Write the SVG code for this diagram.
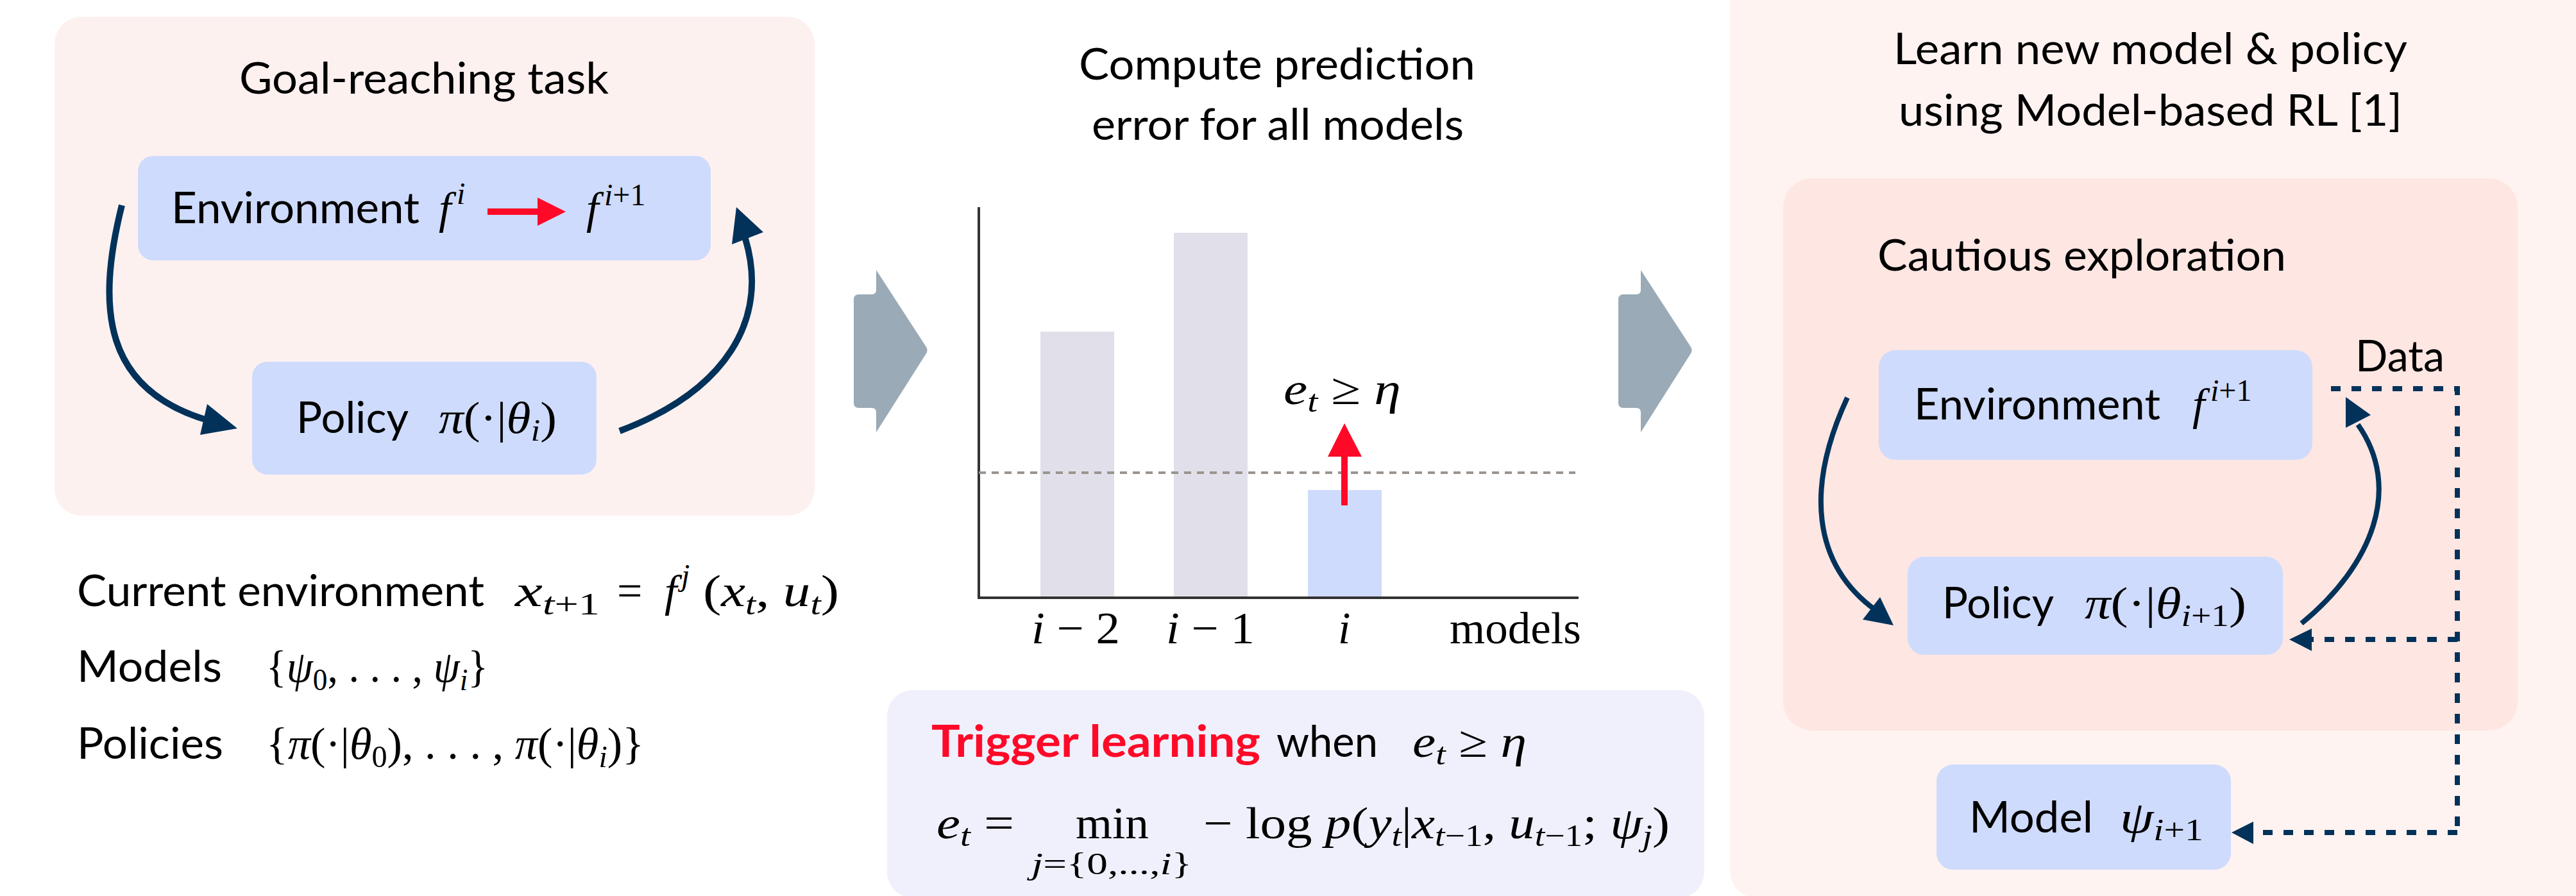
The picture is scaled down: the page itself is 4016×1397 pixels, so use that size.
<svg xmlns="http://www.w3.org/2000/svg" width="4016" height="1397" viewBox="0 0 4016 1397">
<style>
.t{font-family:Lato,"Open Sans","Liberation Sans",sans-serif;font-size:68px;fill:#000}
.m{font-family:"Liberation Serif","DejaVu Serif",serif;font-size:70px;font-style:italic;fill:#000}
.u{font-style:normal}
.s{font-size:48px}
.node{fill:#cedbfc}
.dark{stroke:#02325a;fill:none}
.head{fill:#02325a}
.red{fill:#fe0a28}
.dash{stroke:#02325a;stroke-width:8;fill:none;stroke-dasharray:15 17}
</style>
<defs>
<path id="chev" d="M1331,467 Q1331,459 1339,459 H1359 Q1366,459 1366,452 V421 L1444,541 Q1447,546 1444,551 L1366,674 V643 Q1366,636 1359,636 H1339 Q1331,636 1331,628 Z"/>
</defs>
<rect width="4016" height="1397" fill="#fff"/>

<!-- panels -->
<g id="panel-left">
<rect x="85" y="26" width="1185" height="778" rx="42" fill="#fdf1f0"/>
<text class="t" x="373" y="146" textLength="576" lengthAdjust="spacingAndGlyphs">Goal-reaching task</text>
</g>
<g id="panel-right">
<rect x="2697" y="-60" width="1400" height="1460" rx="42" fill="#fef3f1"/>
<text class="t" x="2952" y="100" textLength="801" lengthAdjust="spacingAndGlyphs">Learn new model &amp; policy</text>
<text class="t" x="2960" y="196" textLength="785" lengthAdjust="spacingAndGlyphs">using Model-based RL [1]</text>
</g>
<g id="cautious-box">
<rect x="2780" y="278" width="1145" height="861" rx="45" fill="#fee6e2"/>
<text class="t" x="2927" y="422" textLength="637" lengthAdjust="spacingAndGlyphs">Cautious exploration</text>
</g>

<!-- left nodes -->
<g id="env-left">
<rect class="node" x="215" y="243" width="893" height="163" rx="24"/>
<text class="t" x="267" y="348" textLength="387" lengthAdjust="spacingAndGlyphs">Environment</text>
<text class="m" x="684" y="348">f</text>
<text class="m s" x="712" y="318">i</text>
<text class="m" x="914" y="348">f</text>
<text class="m s" x="942" y="320">i<tspan class="u">+1</tspan></text>
</g>
<g id="policy-left">
<rect class="node" x="393" y="564" width="537" height="176" rx="24"/>
<text class="t" x="462" y="675" textLength="175" lengthAdjust="spacingAndGlyphs">Policy</text>
<text class="m" x="684" y="675" textLength="184" lengthAdjust="spacingAndGlyphs">π<tspan class="u">(·|</tspan>θ<tspan class="s" dy="12">i</tspan><tspan class="u" dy="-12">)</tspan></text>
</g>

<g id="legend-left">
<text class="t" x="120" y="945" textLength="635" lengthAdjust="spacingAndGlyphs">Current environment</text>
<text class="m" x="803" y="945" textLength="132" lengthAdjust="spacingAndGlyphs">x<tspan class="s" dy="13">t<tspan class="u">+1</tspan></tspan></text>
<text class="m u" x="962" y="945">=</text>
<text class="m" x="1036" y="945">f</text>
<text class="m s" x="1062" y="913">j</text>
<text class="m" x="1096" y="945" textLength="212" lengthAdjust="spacingAndGlyphs"><tspan class="u">(</tspan>x<tspan class="s" dy="13">t</tspan><tspan class="u" dy="-13">, </tspan>u<tspan class="s" dy="13">t</tspan><tspan class="u" dy="-13">)</tspan></text>
<text class="t" x="120" y="1063" textLength="226" lengthAdjust="spacingAndGlyphs">Models</text>
<text class="m" x="415" y="1063" textLength="346" lengthAdjust="spacingAndGlyphs"><tspan class="u">{</tspan>ψ<tspan class="s u" dy="13">0</tspan><tspan class="u" dy="-13">, . . . , </tspan>ψ<tspan class="s" dy="13">i</tspan><tspan class="u" dy="-13">}</tspan></text>
<text class="t" x="120" y="1183" textLength="228" lengthAdjust="spacingAndGlyphs">Policies</text>
<text class="m" x="415" y="1183" textLength="589" lengthAdjust="spacingAndGlyphs"><tspan class="u">{</tspan>π<tspan class="u">(·|</tspan>θ<tspan class="s u" dy="13">0</tspan><tspan class="u" dy="-13">), . . . , </tspan>π<tspan class="u">(·|</tspan>θ<tspan class="s" dy="13">i</tspan><tspan class="u" dy="-13">)}</tspan></text>
</g>

<!-- middle -->
<g id="middle-title">
<text class="t" x="1682" y="124" textLength="618" lengthAdjust="spacingAndGlyphs">Compute prediction</text>
<text class="t" x="1702" y="218" textLength="580" lengthAdjust="spacingAndGlyphs">error for all models</text>
</g>
<g id="chart">
<rect x="1622" y="517" width="115" height="415" fill="#e1e0ea"/>
<rect x="1830" y="363" width="115" height="569" fill="#e1e0ea"/>
<rect x="2039" y="764" width="115" height="168" fill="#cedbfc"/>
<path d="M1526,323 V932 H2461" stroke="#333" stroke-width="4" fill="none"/>
<path d="M1526,737 H2456" stroke="#9b938e" stroke-width="4" stroke-dasharray="11 9" fill="none"/>
<rect class="red" x="2091" y="705" width="10" height="83"/>
<polygon class="red" points="2096,660 2070,712 2123,712"/>
<text class="m" x="2001" y="630" textLength="183" lengthAdjust="spacingAndGlyphs">e<tspan class="s" dy="12">t</tspan><tspan class="u" dy="-12"> ≥ </tspan>η</text>
<text class="m" x="1608" y="1003" textLength="138" lengthAdjust="spacingAndGlyphs">i<tspan class="u"> − 2</tspan></text>
<text class="m" x="1818" y="1003" textLength="138" lengthAdjust="spacingAndGlyphs">i<tspan class="u"> − 1</tspan></text>
<text class="m" x="2086" y="1003">i</text>
<text class="m u" x="2260" y="1003" textLength="205" lengthAdjust="spacingAndGlyphs">models</text>
</g>
<g id="arrow-1"><use href="#chev" fill="#9aaab6"/></g>
<g id="arrow-2"><use href="#chev" fill="#9aaab6" transform="translate(1192,0)"/></g>

<g id="trigger-box">
<rect x="1383" y="1076" width="1274" height="324" rx="40" fill="#f0f0fd"/>
<text class="t" x="1452" y="1180" textLength="513" lengthAdjust="spacingAndGlyphs" style="font-weight:bold;fill:#fe0a28">Trigger learning</text>
<text class="t" x="1990" y="1180" textLength="158" lengthAdjust="spacingAndGlyphs">when</text>
<text class="m" x="2202" y="1180" textLength="178" lengthAdjust="spacingAndGlyphs">e<tspan class="s" dy="12">t</tspan><tspan class="u" dy="-12"> ≥ </tspan>η</text>
<text class="m" x="1460" y="1307" textLength="121" lengthAdjust="spacingAndGlyphs">e<tspan class="s" dy="12">t</tspan><tspan class="u" dy="-12"> =</tspan></text>
<text class="m u" x="1677" y="1307" textLength="114" lengthAdjust="spacingAndGlyphs">min</text>
<text class="m s" x="1608" y="1363" textLength="250" lengthAdjust="spacingAndGlyphs">j<tspan class="u">={0,...,</tspan>i<tspan class="u">}</tspan></text>
<text class="m" x="1876" y="1307" textLength="727" lengthAdjust="spacingAndGlyphs"><tspan class="u">− log </tspan>p<tspan class="u">(</tspan>y<tspan class="s" dy="12">t</tspan><tspan class="u" dy="-12">|</tspan>x<tspan class="s" dy="12">t<tspan class="u">−1</tspan></tspan><tspan class="u" dy="-12">, </tspan>u<tspan class="s" dy="12">t<tspan class="u">−1</tspan></tspan><tspan class="u" dy="-12">; </tspan>ψ<tspan class="s" dy="12">j</tspan><tspan class="u" dy="-12">)</tspan></text>
</g>

<!-- right nodes -->
<g id="env-right">
<rect class="node" x="2929" y="546" width="676" height="171" rx="26"/>
<text class="t" x="2984" y="654" textLength="384" lengthAdjust="spacingAndGlyphs">Environment</text>
<text class="m" x="3418" y="654">f</text>
<text class="m s" x="3446" y="625">i<tspan class="u">+1</tspan></text>
</g>
<g id="policy-right">
<rect class="node" x="2974" y="868" width="585" height="153" rx="26"/>
<text class="t" x="3028" y="964" textLength="174" lengthAdjust="spacingAndGlyphs">Policy</text>
<text class="m" x="3250" y="964" textLength="252" lengthAdjust="spacingAndGlyphs">π<tspan class="u">(·|</tspan>θ<tspan class="s" dy="12">i<tspan class="u">+1</tspan></tspan><tspan class="u" dy="-12">)</tspan></text>
</g>
<g id="model-right">
<rect class="node" x="3019" y="1192" width="459" height="164" rx="26"/>
<text class="t" x="3070" y="1298" textLength="193" lengthAdjust="spacingAndGlyphs">Model</text>
<text class="m" x="3305" y="1298" textLength="130" lengthAdjust="spacingAndGlyphs">ψ<tspan class="s" dy="12">i<tspan class="u">+1</tspan></tspan></text>
</g>
<g id="data-label">
<text class="t" x="3672" y="579" textLength="139" lengthAdjust="spacingAndGlyphs">Data</text>
</g>

<!-- connectors -->
<g id="connectors">
<rect class="red" x="760" y="325" width="80" height="10"/>
<polygon class="red" points="838,308 882,330 838,352"/>
<path class="dark" stroke-width="10" d="M190,320 C150,480 160,610 330,657"/>
<polygon class="head" points="370,668 323,630 312,678"/>
<path class="dark" stroke-width="10" d="M966,672 C1130,610 1200,500 1162,372"/>
<polygon class="head" points="1148,323 1141,381 1190,362"/>
<path class="dark" stroke-width="8" d="M2880,620 C2815,760 2825,880 2925,952"/>
<polygon class="head" points="2952,975 2904,966 2931,931"/>
<path class="dark" stroke-width="8" d="M3588,972 C3700,880 3745,760 3676,662"/>
<polygon class="head" points="3657,619 3657,667 3696,647"/>
<path class="dash" d="M3634,606 H3831 V1298"/>
<path class="dash" d="M3831,997 H3604"/>
<polygon class="head" points="3569,997 3604,980 3604,1015"/>
<path class="dash" d="M3831,1298 H3513"/>
<polygon class="head" points="3479,1298 3513,1281 3513,1316"/>
</g>
</svg>
